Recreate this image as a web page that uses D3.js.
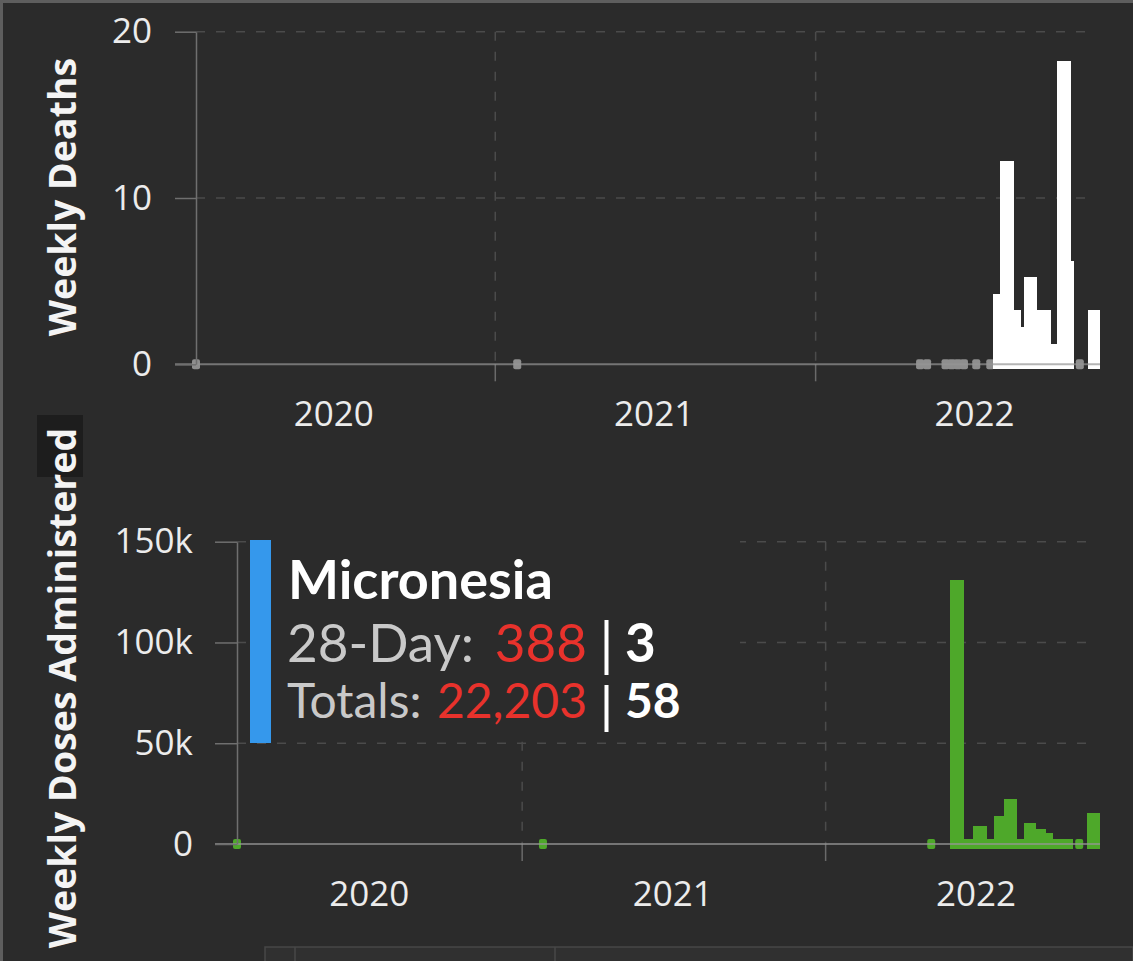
<!DOCTYPE html>
<html>
<head>
<meta charset="utf-8">
<script src="https://cdn.jsdelivr.net/npm/d3@7"></script>
<style>
  body { margin: 0; background: #2b2b2b; }
  svg { display: block; }
</style>
</head>
<body>
<div id="chart"></div>
<script>
// -------------------- DATA --------------------
// weekly deaths: each bar runs from its start date to the next one
const deathStarts = ["2022-07-22","2022-07-30","2022-08-15","2022-08-23","2022-08-26","2022-09-10",
                     "2022-09-26","2022-10-03","2022-10-19","2022-10-22","2022-11-07"];
const deathValues = [4, 12, 3, 2, 5, 3, 1, 18, 6, 0, 3];
const deathEnd = "2022-11-21";
const deathZeroDates = ["2020-01-26","2021-01-26","2022-04-30","2022-05-08","2022-05-29","2022-06-05",
                        "2022-06-12","2022-06-19","2022-07-03","2022-07-19","2022-10-29"];
const deathTicks = [0, 10, 20];

// weekly doses administered
const doseStarts = ["2022-05-31","2022-06-16","2022-06-27","2022-07-14","2022-07-22","2022-08-03",
                    "2022-08-19","2022-08-27","2022-09-11","2022-09-23","2022-10-02","2022-10-25","2022-11-11"];
const doseValues = [129000, 500, 6900, 500, 11900, 20200, 500, 8600, 5300, 3600, 500, 0, 13500];
const doseEnd = "2022-11-27";
const doseZeroDates = ["2020-01-24","2021-01-26","2022-05-08","2022-11-02"];
const doseTicks = [0, 50000, 100000, 150000];

const years = [2020, 2021, 2022];

const country = "Micronesia";
const dayLabel = "28-Day:", dayCases = "388", dayDeaths = "3";
const totLabel = "Totals:", totCases = "22,203", totDeaths = "58";

// -------------------- DRAW --------------------
const W = 1133, H = 961;
const parse = d3.utcParse("%Y-%m-%d");

const svg = d3.select("#chart").append("svg")
  .attr("width", W).attr("height", H)
  .style("background", "#2b2b2b");

const tickFont = "'Open Sans', sans-serif";

function panel(cfg) {
  const x = d3.scaleUtc().domain(cfg.domain.map(parse)).range(cfg.xRange);
  const y = d3.scaleLinear().domain([0, cfg.yMax]).range(cfg.yRange);
  const y0 = y(0);
  const g = svg.append("g");
  const left = cfg.xRange[0];

  // dashed horizontal grid
  g.selectAll(null).data(cfg.ticks.filter(d => d > 0)).join("line")
    .attr("x1", left).attr("x2", 1093)
    .attr("y1", d => y(d)).attr("y2", d => y(d))
    .attr("stroke", "#4b4b4b").attr("stroke-width", 1.5)
    .attr("stroke-dasharray", "9 11");

  // year boundaries
  const bounds = years.slice(1).map(yr => new Date(Date.UTC(yr, 0, 1)));
  g.selectAll(null).data(bounds).join("line")
    .attr("x1", d => x(d)).attr("x2", d => x(d))
    .attr("y1", y(cfg.yMax)).attr("y2", y0)
    .attr("stroke", "#4b4b4b").attr("stroke-width", 1.5)
    .attr("stroke-dasharray", "9 11");
  g.selectAll(null).data(bounds).join("line")
    .attr("x1", d => x(d)).attr("x2", d => x(d))
    .attr("y1", y0).attr("y2", y0 + 17)
    .attr("stroke", "#6a6a6a").attr("stroke-width", 1.5);

  // zero reports
  g.selectAll(null).data(cfg.zeros.map(parse)).join("rect")
    .attr("x", d => x(d) - 4).attr("y", y0 - 5)
    .attr("width", 8).attr("height", 10).attr("rx", 2)
    .attr("fill", cfg.zeroColor);

  // bars
  const bars = cfg.starts.map((s, i) => ({
    start: parse(s),
    end: parse(i < cfg.starts.length - 1 ? cfg.starts[i + 1] : cfg.end),
    value: cfg.values[i]
  })).filter(d => d.value > 0);

  g.selectAll(null).data(bars).join("rect")
    .attr("x", d => x(d.start))
    .attr("width", d => x(d.end) - x(d.start))
    .attr("y", d => y(d.value) - 4)
    .attr("height", d => y0 + 5 - (y(d.value) - 4))
    .attr("fill", cfg.color)
    .attr("shape-rendering", "crispEdges");

  // x axis line, drawn over the bars
  g.append("line")
    .attr("x1", left - cfg.tickLen).attr("x2", cfg.xRange[1])
    .attr("y1", y0).attr("y2", y0)
    .attr("stroke", "rgba(150,150,150,0.7)").attr("stroke-width", 2);

  // y axis
  const ya = d3.axisLeft(y)
    .tickValues(cfg.ticks)
    .tickFormat(cfg.fmt)
    .tickSize(cfg.tickLen)
    .tickSizeOuter(0)
    .tickPadding(cfg.pad);
  const ag = g.append("g").attr("transform", `translate(${left},0)`).call(ya);
  ag.select(".domain").attr("stroke", "#6f6f6f").attr("stroke-width", 1.5);
  ag.selectAll(".tick line").attr("stroke", "#6f6f6f").attr("stroke-width", 1.5);
  ag.selectAll(".tick text")
    .attr("fill", "#ececec")
    .style("font-family", tickFont)
    .style("font-size", "35px");

  // year labels at mid-year
  g.selectAll(null).data(years).join("text")
    .attr("x", d => x(new Date(Date.UTC(d, 6, 1))))
    .attr("y", cfg.labelY)
    .attr("text-anchor", "middle")
    .attr("fill", "#ececec")
    .style("font-family", tickFont)
    .style("font-size", "35px")
    .text(d => d);

  return { x, y };
}

// -------------------- TOP: deaths --------------------
panel({
  domain: ["2020-01-26", "2022-11-21"], xRange: [196, 1100],
  yMax: 20, yRange: [364.3, 31.7],
  ticks: deathTicks, fmt: d3.format("d"),
  tickLen: 21, pad: 23,
  starts: deathStarts, values: deathValues, end: deathEnd,
  zeros: deathZeroDates, zeroColor: "#8e8e8e",
  color: "#ffffff", labelY: 426
});

// -------------------- BOTTOM: doses --------------------
panel({
  domain: ["2020-01-24", "2022-11-27"], xRange: [237, 1100],
  yMax: 150000, yRange: [844, 541.7],
  ticks: doseTicks, fmt: d => d === 0 ? "0" : d / 1000 + "k",
  tickLen: 22, pad: 22,
  starts: doseStarts, values: doseValues, end: doseEnd,
  zeros: doseZeroDates, zeroColor: "#4ea82a",
  color: "#4ea82a", labelY: 906
});

// -------------------- axis titles --------------------
svg.append("rect")
  .attr("x", 37).attr("y", 415).attr("width", 46).attr("height", 62)
  .attr("fill", "#1d1d1d");

svg.selectAll(null)
  .data([{ t: "Weekly Deaths", cy: 197 }, { t: "Weekly Doses Administered", cy: 688 }])
  .join("text")
  .attr("transform", d => `translate(76,${d.cy}) rotate(-90)`)
  .attr("text-anchor", "middle")
  .attr("fill", "#f4f4f4")
  .style("font-family", tickFont)
  .style("font-weight", 700)
  .style("font-size", "37.5px")
  .text(d => d.t);

// -------------------- annotation --------------------
const ann = svg.append("g").style("font-family", "Lato, sans-serif");
ann.append("rect")
  .attr("x", 250).attr("y", 528).attr("width", 490).attr("height", 208)
  .attr("fill", "#2b2b2b");
ann.append("rect")
  .attr("x", 250).attr("y", 540).attr("width", 21).attr("height", 203)
  .attr("fill", "#3598ec");

ann.append("text")
  .attr("x", 288).attr("y", 599)
  .attr("fill", "#ffffff").style("font-weight", 700).style("font-size", "54px")
  .text(country);

const rows = [
  { label: dayLabel, cases: dayCases, deaths: dayDeaths, base: 662, size: 53, top: 620, bot: 675 },
  { label: totLabel, cases: totCases, deaths: totDeaths, base: 718, size: 48, top: 685, bot: 732 }
];
rows.forEach(r => {
  ann.append("text").attr("x", 287).attr("y", r.base)
    .attr("fill", "#c9c9c9").style("font-size", r.size + "px").text(r.label);
  ann.append("text").attr("x", 587).attr("y", r.base).attr("text-anchor", "end")
    .attr("fill", "#e8322c").style("font-size", r.size + "px").text(r.cases);
  ann.append("rect").attr("x", 604.5).attr("y", r.top).attr("width", 4).attr("height", r.bot - r.top)
    .attr("fill", "#ffffff");
  ann.append("text").attr("x", 625).attr("y", r.base)
    .attr("fill", "#ffffff").style("font-weight", 700).style("font-size", r.size + "px").text(r.deaths);
});

// -------------------- frame bits --------------------
svg.append("rect").attr("x", 0).attr("y", 0).attr("width", W).attr("height", 3).attr("fill", "#5e5e5e");
svg.append("rect").attr("x", 0).attr("y", 0).attr("width", 3).attr("height", H).attr("fill", "#5e5e5e");
svg.append("rect").attr("x", 265).attr("y", 947).attr("width", W - 265).attr("height", 16)
  .attr("fill", "#303030").attr("stroke", "#474747").attr("stroke-width", 1.5);
svg.selectAll(null).data([295, 555]).join("line")
  .attr("x1", d => d).attr("x2", d => d).attr("y1", 947).attr("y2", H)
  .attr("stroke", "#474747").attr("stroke-width", 1.5);
</script>
</body>
</html>
